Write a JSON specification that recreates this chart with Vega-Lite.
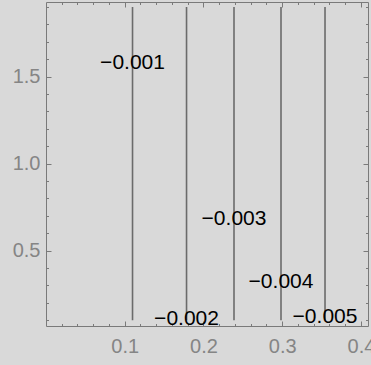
{
  "$schema": "https://vega.github.io/schema/vega-lite/v6.json",
  "width": 322,
  "height": 324,
  "autosize": {"type": "none"},
  "padding": {"left": 46, "top": 2, "right": 3, "bottom": 39},
  "background": "#d9d9d9",
  "config": {
    "view": {"stroke": "#7a7a7a", "strokeWidth": 1},
    "axis": {
      "grid": false,
      "domain": false,
      "tickColor": "#7a7a7a",
      "tickWidth": 1,
      "labelFont": "Liberation Sans",
      "labelFontSize": 20,
      "labelColor": "#858585",
      "labelOverlap": false,
      "labelFlush": false,
      "labelBound": false,
      "title": null
    }
  },
  "datasets": {
    "contours": [
      {"x": 0.1099, "y0": 0.1, "y1": 1.9, "level": -0.001, "ly": 1.577},
      {"x": 0.1785, "y0": 0.1, "y1": 1.9, "level": -0.002, "ly": 0.106},
      {"x": 0.2388, "y0": 0.1, "y1": 1.9, "level": -0.003, "ly": 0.681},
      {"x": 0.2985, "y0": 0.1, "y1": 1.9, "level": -0.004, "ly": 0.319},
      {"x": 0.3544, "y0": 0.1, "y1": 1.9, "level": -0.005, "ly": 0.118}
    ]
  },
  "data": {"name": "contours"},
  "layer": [
    {
      "mark": {"type": "rule", "color": "#6b6b6b", "strokeWidth": 1.6},
      "encoding": {
        "x": {
          "field": "x", "type": "quantitative",
          "scale": {"domain": [0, 0.409], "nice": false, "zero": false},
          "axis": {
            "orient": "bottom",
            "values": [0.02, 0.04, 0.06, 0.08, 0.1, 0.12, 0.14, 0.16, 0.18, 0.2, 0.22, 0.24, 0.26, 0.28, 0.3, 0.32, 0.34, 0.36, 0.38, 0.4],
            "tickSize": {"condition": {"test": "abs(datum.value*10 - round(datum.value*10)) < 1e-6", "value": -5}, "value": -2.5},
            "labelPadding": 15.5,
            "labelExpr": "abs(datum.value*10 - round(datum.value*10)) < 1e-6 ? format(datum.value, '.1f') : ''"
          }
        },
        "y": {
          "field": "y0", "type": "quantitative",
          "scale": {"domain": [0.067, 1.929], "nice": false, "zero": false},
          "axis": {
            "orient": "left",
            "values": [0.1, 0.2, 0.3, 0.4, 0.5, 0.6, 0.7, 0.8, 0.9, 1.0, 1.1, 1.2, 1.3, 1.4, 1.5, 1.6, 1.7, 1.8, 1.9],
            "tickSize": {"condition": {"test": "abs(datum.value*2 - round(datum.value*2)) < 1e-6", "value": -5}, "value": -2.5},
            "labelPadding": 11,
            "labelExpr": "abs(datum.value*2 - round(datum.value*2)) < 1e-6 ? format(datum.value, '.1f') : ''"
          }
        },
        "y2": {"field": "y1"}
      }
    },
    {
      "mark": {"type": "text", "font": "Liberation Sans", "fontSize": 21, "color": "#000000", "align": "center", "baseline": "middle"},
      "encoding": {
        "x": {
          "field": "x", "type": "quantitative",
          "scale": {"domain": [0, 0.409], "nice": false, "zero": false},
          "axis": {
            "orient": "top",
            "labels": false,
            "values": [0.02, 0.04, 0.06, 0.08, 0.1, 0.12, 0.14, 0.16, 0.18, 0.2, 0.22, 0.24, 0.26, 0.28, 0.3, 0.32, 0.34, 0.36, 0.38, 0.4],
            "tickSize": {"condition": {"test": "abs(datum.value*10 - round(datum.value*10)) < 1e-6", "value": -5}, "value": -2.5}
          }
        },
        "y": {
          "field": "ly", "type": "quantitative",
          "scale": {"domain": [0.067, 1.929], "nice": false, "zero": false},
          "axis": {
            "orient": "right",
            "labels": false,
            "values": [0.1, 0.2, 0.3, 0.4, 0.5, 0.6, 0.7, 0.8, 0.9, 1.0, 1.1, 1.2, 1.3, 1.4, 1.5, 1.6, 1.7, 1.8, 1.9],
            "tickSize": {"condition": {"test": "abs(datum.value*2 - round(datum.value*2)) < 1e-6", "value": -5}, "value": -2.5}
          }
        },
        "text": {"field": "level", "type": "quantitative", "format": ".3f"}
      }
    }
  ],
  "resolve": {"axis": {"x": "independent", "y": "independent"}}
}
